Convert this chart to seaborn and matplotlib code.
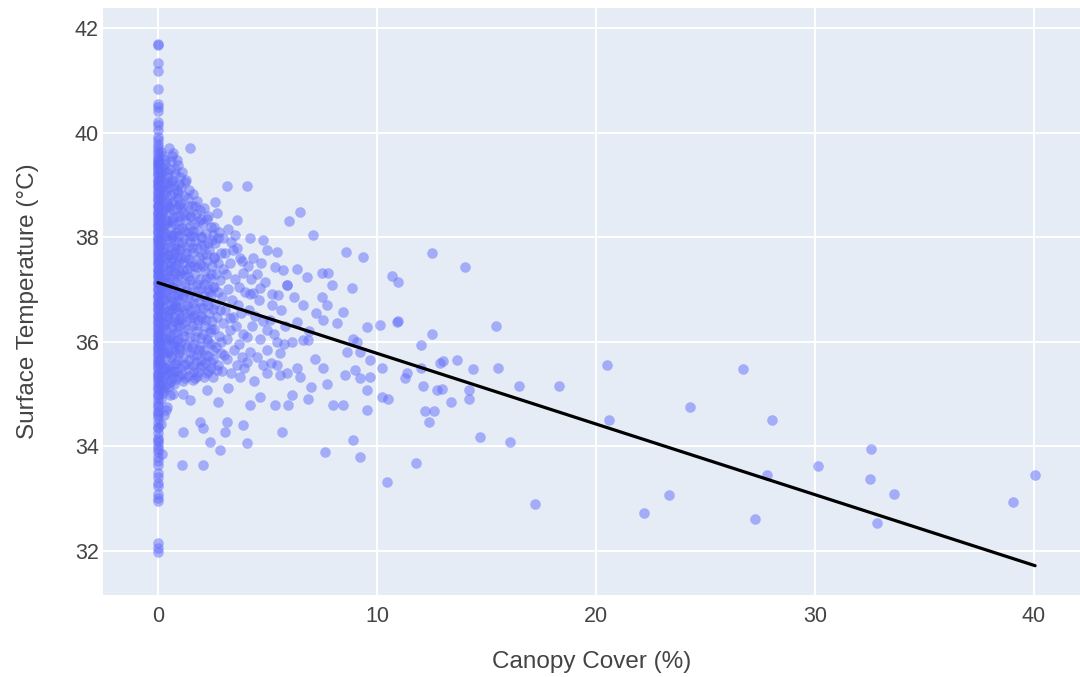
import matplotlib
matplotlib.use("Agg")
import matplotlib.pyplot as plt
import seaborn as sns
import pandas as pd

# ---------------- data ----------------
# points sitting at 0 % canopy cover
zero_y = [41.69, 41.67, 41.32, 41.17, 40.84, 40.55, 40.49, 40.41, 40.2, 40.14, 40.04, 39.92,
          39.85, 39.78, 39.73, 39.66, 39.6, 39.55, 39.48, 39.42, 39.37, 39.3, 39.25, 39.18,
          39.12, 39.05, 39.0, 38.93, 38.88, 38.81, 38.75, 38.7, 38.62, 38.57, 38.5, 38.44,
          38.38, 38.31, 38.26, 38.2, 38.13, 38.07, 38.01, 37.95, 37.9, 37.83, 37.77, 37.7,
          37.65, 37.58, 37.52, 37.46, 37.4, 37.33, 37.28, 37.21, 37.15, 37.1, 37.03, 36.97,
          36.9, 36.85, 36.78, 36.72, 36.66, 36.6, 36.53, 36.48, 36.41, 36.35, 36.3, 36.22,
          36.17, 36.1, 36.04, 35.98, 35.92, 35.86, 35.8, 35.73, 35.67, 35.6, 35.55, 35.48,
          35.41, 35.35, 35.3, 35.22, 35.15, 35.08, 35.0, 34.92, 34.85, 34.76, 34.68, 34.64,
          34.55, 34.45, 34.38, 34.26, 34.17, 34.08, 34.0, 33.9, 33.8, 33.72, 33.65, 33.5,
          33.42, 33.3, 33.25, 33.1, 33.01, 32.95, 32.15, 32.05, 31.99]
zero2_y = [39.5, 39.4, 39.33, 39.21, 39.08, 38.97, 38.85, 38.72, 38.6, 38.47, 38.35, 38.23,
           38.1, 37.98, 37.86, 37.74, 37.62, 37.5, 37.37, 37.25, 37.12, 37.0, 36.88, 36.75,
           36.63, 36.5, 36.38, 36.26, 36.13, 36.01, 35.89, 35.76, 35.64, 35.52, 35.39, 35.27,
           35.12, 34.98, 34.8, 34.6, 34.35, 34.12, 33.95]

# (canopy %, surface temperature) pairs by canopy band
band_near0 = [(0.12, 39.62), (0.3, 39.48), (0.18, 39.35), (0.4, 39.22), (0.08, 39.1), (0.25, 38.98),
              (0.35, 38.86), (0.15, 38.74), (0.42, 38.62), (0.22, 38.5), (0.1, 38.38), (0.33, 38.26),
              (0.2, 38.14), (0.38, 38.02), (0.14, 37.9), (0.28, 37.78), (0.45, 37.66), (0.06, 37.54),
              (0.24, 37.42), (0.36, 37.3), (0.16, 37.18), (0.41, 37.06), (0.11, 36.94), (0.3, 36.82),
              (0.19, 36.7), (0.44, 36.58), (0.09, 36.46), (0.27, 36.34), (0.37, 36.22), (0.13, 36.1),
              (0.32, 35.98), (0.21, 35.86), (0.43, 35.74), (0.07, 35.62), (0.26, 35.5), (0.39, 35.38),
              (0.17, 35.26), (0.34, 35.14), (0.23, 35.02), (0.12, 34.9), (0.4, 34.75), (0.29, 34.6),
              (0.15, 34.42), (0.36, 34.7), (0.2, 33.85)]
band_near0b = [(0.22, 39.55), (0.05, 39.42), (0.34, 39.28), (0.16, 39.16), (0.44, 39.04), (0.1, 38.92),
               (0.28, 38.8), (0.4, 38.68), (0.06, 38.56), (0.2, 38.44), (0.37, 38.32), (0.13, 38.2),
               (0.3, 38.08), (0.42, 37.96), (0.08, 37.84), (0.24, 37.72), (0.35, 37.6), (0.17, 37.48),
               (0.45, 37.36), (0.11, 37.24), (0.31, 37.12), (0.2, 37.0), (0.39, 36.88), (0.07, 36.76),
               (0.27, 36.64), (0.14, 36.52), (0.42, 36.4), (0.22, 36.28), (0.05, 36.16), (0.35, 36.04),
               (0.16, 35.92), (0.3, 35.8), (0.1, 35.68), (0.41, 35.56), (0.19, 35.44), (0.33, 35.32),
               (0.08, 35.2), (0.26, 35.08)]
band_near0c = [(0.32, 39.4), (0.14, 39.25), (0.26, 39.05), (0.38, 38.9), (0.18, 38.72), (0.3, 38.55),
               (0.09, 38.4), (0.43, 38.28), (0.24, 38.12), (0.12, 37.95), (0.34, 37.8), (0.2, 37.62),
               (0.4, 37.5), (0.06, 37.38), (0.28, 37.22), (0.15, 37.08), (0.36, 36.95), (0.24, 36.8),
               (0.1, 36.62), (0.42, 36.5), (0.3, 36.36), (0.17, 36.2), (0.38, 36.08), (0.08, 35.95),
               (0.27, 35.78), (0.14, 35.6), (0.35, 35.5), (0.22, 35.35), (0.44, 35.22), (0.12, 35.1)]
band_a = [(0.5, 39.7), (0.7, 39.6), (0.6, 39.45), (0.9, 39.38), (0.55, 39.3), (0.8, 39.2), (0.65, 39.1),
          (0.95, 39.02), (0.5, 38.95), (0.75, 38.85), (0.9, 38.75), (0.6, 38.66), (0.85, 38.55),
          (0.52, 38.47), (0.7, 38.38), (0.98, 38.3), (0.58, 38.2), (0.82, 38.1), (0.66, 38.0),
          (0.92, 37.9), (0.54, 37.82), (0.76, 37.72), (0.88, 37.62), (0.6, 37.53), (0.72, 37.43),
          (0.97, 37.35), (0.5, 37.25), (0.84, 37.15), (0.64, 37.05), (0.9, 36.95), (0.56, 36.85),
          (0.78, 36.75), (0.68, 36.65), (0.95, 36.55), (0.52, 36.45), (0.86, 36.35), (0.62, 36.25),
          (0.74, 36.15), (0.93, 36.05), (0.58, 35.95), (0.8, 35.85), (0.66, 35.75), (0.9, 35.65),
          (0.55, 35.55), (0.72, 35.45), (0.98, 35.35), (0.6, 35.25), (0.82, 35.28), (0.7, 35.0),
          (0.55, 34.98)]
band_a2 = [(0.62, 39.55), (0.85, 39.48), (0.48, 39.15), (0.72, 39.0), (0.88, 38.9), (0.58, 38.8),
           (0.95, 38.62), (0.68, 38.52), (0.47, 38.3), (0.8, 38.25), (0.6, 38.05), (0.9, 38.02),
           (0.74, 37.85), (0.5, 37.65), (0.96, 37.75), (0.66, 37.6), (0.82, 37.48), (0.55, 37.38),
           (0.9, 37.25), (0.7, 37.2), (0.48, 37.0), (0.78, 36.9), (0.96, 36.8), (0.6, 36.7),
           (0.86, 36.6), (0.5, 36.55), (0.72, 36.4), (0.94, 36.3), (0.57, 36.12), (0.83, 36.02),
           (0.68, 35.9), (0.48, 35.8), (0.94, 35.78), (0.76, 35.6), (0.62, 35.4), (0.88, 35.45),
           (0.52, 35.15), (0.75, 35.2)]
band_a3 = [(0.78, 39.3), (0.58, 39.05), (0.92, 38.85), (0.7, 38.7), (0.52, 38.58), (0.86, 38.4),
           (0.64, 38.3), (0.96, 38.15), (0.74, 38.05), (0.56, 37.92), (0.84, 37.8), (0.68, 37.68),
           (0.94, 37.55), (0.6, 37.45), (0.8, 37.32), (0.5, 37.15), (0.74, 37.02), (0.9, 36.9),
           (0.62, 36.78), (0.84, 36.68), (0.54, 36.6), (0.76, 36.48), (0.98, 36.42), (0.66, 36.3),
           (0.88, 36.18), (0.52, 36.05), (0.72, 35.96), (0.94, 35.88), (0.6, 35.7), (0.84, 35.58),
           (0.5, 35.45), (0.7, 35.32)]
band_b = [(1.46, 39.71), (1.1, 39.25), (1.3, 39.1), (1.05, 38.95), (1.4, 38.9), (1.2, 38.78),
          (1.02, 38.65), (1.35, 38.6), (1.15, 38.48), (1.45, 38.4), (1.25, 38.3), (1.08, 38.18),
          (1.38, 38.1), (1.18, 37.98), (1.48, 37.9), (1.03, 37.8), (1.28, 37.7), (1.42, 37.58),
          (1.12, 37.5), (1.33, 37.4), (1.22, 37.28), (1.47, 37.18), (1.06, 37.08), (1.3, 36.98),
          (1.16, 36.86), (1.4, 36.76), (1.02, 36.66), (1.26, 36.55), (1.44, 36.45), (1.1, 36.35),
          (1.36, 36.25), (1.2, 36.12), (1.05, 36.0), (1.32, 35.9), (1.46, 35.8), (1.14, 35.7),
          (1.28, 35.58), (1.4, 35.48), (1.08, 35.38), (1.24, 35.3), (1.16, 35.01), (1.46, 34.88),
          (1.16, 34.28), (1.08, 33.64), (1.6, 35.27)]
band_b2 = [(1.22, 39.05), (1.0, 39.15), (1.38, 38.75), (1.1, 38.58), (1.3, 38.42), (1.48, 38.22),
           (1.0, 38.4), (1.2, 38.12), (1.44, 38.02), (1.1, 37.9), (1.32, 37.82), (1.05, 37.6),
           (1.22, 37.62), (1.46, 37.45), (1.16, 37.38), (1.38, 37.25), (1.0, 37.3), (1.25, 37.1),
           (1.42, 36.92), (1.1, 36.9), (1.34, 36.7), (1.18, 36.6), (1.48, 36.58), (1.05, 36.45),
           (1.3, 36.4), (1.15, 36.2), (1.45, 36.1), (1.25, 35.95), (1.0, 35.85), (1.4, 35.65),
           (1.2, 35.55), (1.02, 35.5), (1.35, 35.35), (1.12, 35.25)]
band_c = [(1.92, 38.52), (1.6, 38.82), (1.8, 38.7), (1.55, 38.6), (1.75, 38.45), (1.95, 38.35),
          (1.65, 38.25), (1.85, 38.12), (1.58, 38.02), (1.7, 37.92), (1.98, 37.85), (1.62, 37.72),
          (1.88, 37.62), (1.52, 37.52), (1.78, 37.42), (1.68, 37.3), (1.94, 37.2), (1.56, 37.1),
          (1.82, 36.98), (1.72, 36.88), (1.6, 36.75), (1.9, 36.65), (1.66, 36.52), (1.84, 36.42),
          (1.54, 36.3), (1.76, 36.2), (1.96, 36.08), (1.64, 35.96), (1.86, 35.85), (1.58, 35.75),
          (1.74, 35.62), (1.92, 35.52), (1.62, 35.42), (1.8, 35.35), (1.92, 34.47), (2.07, 34.35)]
band_c2 = [(1.7, 38.6), (1.52, 38.4), (1.88, 38.3), (1.62, 38.12), (1.95, 38.0), (1.78, 37.8),
           (1.55, 37.8), (1.9, 37.48), (1.64, 37.45), (1.76, 37.1), (1.98, 37.02), (1.52, 36.95),
           (1.86, 36.78), (1.7, 36.62), (1.98, 36.5), (1.58, 36.48), (1.8, 36.32), (1.68, 36.1),
           (1.9, 35.92), (1.54, 35.9), (1.78, 35.75), (1.96, 35.65), (1.6, 35.55), (1.85, 35.42),
           (1.7, 35.3)]
band_d = [(2.6, 38.68), (2.1, 38.55), (2.3, 38.4), (2.05, 38.28), (2.4, 38.2), (2.2, 38.08),
          (2.45, 37.95), (2.12, 37.85), (2.35, 37.75), (2.02, 37.65), (2.25, 37.55), (2.48, 37.45),
          (2.15, 37.35), (2.38, 37.22), (2.08, 37.1), (2.28, 37.0), (2.44, 36.9), (2.18, 36.78),
          (2.04, 36.65), (2.32, 36.55), (2.46, 36.4), (2.14, 36.3), (2.36, 36.18), (2.22, 36.05),
          (2.42, 35.95), (2.06, 35.85), (2.3, 35.72), (2.16, 35.6), (2.4, 35.5), (2.24, 35.4),
          (2.1, 35.32), (2.22, 35.07), (2.38, 34.09), (2.07, 33.64), (2.76, 34.85)]
band_d2 = [(2.25, 38.35), (2.5, 38.05), (2.02, 38.0), (2.3, 37.88), (2.18, 37.68), (2.55, 37.62),
           (2.42, 37.3), (2.05, 37.45), (2.2, 37.2), (2.52, 37.05), (2.35, 36.95), (2.1, 36.88),
           (2.28, 36.7), (2.5, 36.62), (2.0, 36.45), (2.4, 36.25), (2.2, 36.42), (2.05, 36.15),
           (2.3, 36.0), (2.52, 35.85), (2.14, 35.75), (2.44, 35.62), (2.02, 35.55), (2.3, 35.45),
           (2.52, 35.32)]
band_e = [(2.68, 38.47), (2.55, 38.2), (2.8, 38.1), (2.95, 37.98), (2.62, 37.88), (2.76, 37.98),
          (2.88, 37.7), (2.58, 37.6), (2.72, 37.5), (2.98, 37.4), (2.64, 37.3), (2.84, 37.18),
          (2.54, 37.05), (2.74, 36.95), (2.92, 36.85), (2.6, 36.72), (2.82, 36.6), (2.7, 36.48),
          (2.96, 36.36), (2.56, 36.25), (2.78, 36.12), (2.9, 36.0), (2.66, 35.9), (2.86, 35.78),
          (2.52, 35.68), (2.72, 35.55), (2.94, 35.45), (2.68, 35.46), (2.83, 33.93), (3.14, 35.68)]
band_f = [(3.17, 38.98), (3.59, 38.33), (3.52, 38.04), (3.44, 37.75), (3.74, 37.6), (3.9, 37.31),
          (3.2, 38.15), (3.35, 37.9), (3.05, 37.7), (3.62, 37.8), (3.28, 37.5), (3.85, 37.55),
          (3.1, 37.3), (3.5, 37.2), (3.7, 37.05), (3.22, 37.0), (3.96, 36.95), (3.4, 36.8),
          (3.66, 36.7), (3.08, 36.6), (3.8, 36.55), (3.3, 36.45), (3.44, 36.47), (3.28, 36.22),
          (3.58, 36.3), (3.9, 36.15), (3.15, 36.05), (3.7, 35.95), (3.45, 35.85), (3.02, 35.75),
          (3.85, 35.7), (3.6, 35.55), (3.74, 35.33), (3.22, 35.11), (3.14, 34.47), (3.06, 34.28),
          (3.9, 34.41), (3.35, 35.4), (3.95, 35.5)]
band_g = [(4.08, 38.98), (4.2, 37.98), (4.81, 37.95), (4.96, 37.75), (4.35, 37.6), (4.66, 37.02),
          (4.2, 36.92), (4.35, 36.93), (4.5, 37.3), (4.1, 37.45), (4.7, 37.5), (4.9, 37.15),
          (4.25, 37.2), (4.6, 36.8), (4.96, 36.22), (4.15, 36.6), (4.45, 36.5), (4.8, 36.4),
          (4.3, 36.3), (4.05, 36.1), (4.65, 36.05), (4.96, 35.84), (4.2, 35.81), (4.05, 35.62),
          (4.5, 35.7), (4.8, 35.55), (4.96, 35.4), (4.66, 34.95), (4.2, 34.79), (4.05, 34.06),
          (4.4, 35.25)]
band_h = [(5.42, 37.72), (5.34, 37.43), (5.72, 37.37), (5.87, 37.08), (5.19, 36.92), (5.88, 37.09),
          (5.11, 36.41), (5.42, 36.0), (5.57, 35.78), (5.57, 35.37), (5.34, 34.79), (5.95, 34.79),
          (5.65, 34.28), (5.2, 36.7), (5.6, 36.6), (5.8, 36.3), (5.3, 36.15), (5.75, 35.95),
          (5.5, 36.9), (5.15, 35.6), (5.45, 35.55)]
band_i = [(6.48, 38.49), (6.0, 38.3), (7.06, 38.05), (6.33, 37.40), (6.79, 37.24), (7.47, 37.32),
          (7.78, 37.32), (7.93, 37.08), (6.64, 36.70), (7.47, 36.86), (7.7, 36.70), (7.55, 36.41),
          (6.33, 36.38), (6.1, 36.0), (6.85, 36.03), (6.64, 36.03), (7.15, 35.68), (7.55, 35.49),
          (6.33, 35.49), (5.87, 35.40), (6.48, 35.33), (7.7, 35.20), (7.0, 35.14), (6.85, 34.91),
          (6.1, 34.98), (7.62, 33.90), (6.2, 36.85), (7.2, 36.55), (6.9, 36.2)]
band_j = [(8.57, 37.72), (9.38, 37.62), (8.84, 37.02), (8.46, 36.57), (8.16, 36.35), (9.53, 36.29),
          (9.07, 36.0), (9.22, 35.81), (8.61, 35.81), (9.68, 35.65), (9.0, 35.46), (8.54, 35.36),
          (9.68, 35.33), (9.22, 35.30), (9.53, 35.07), (9.53, 34.69), (8.0, 34.79), (8.46, 34.79),
          (8.92, 34.12), (9.22, 33.80), (8.9, 36.05)]
band_k = [(10.14, 36.32), (10.9, 36.38), (10.21, 35.49), (10.21, 34.95), (10.52, 34.91), (10.44, 33.32),
          (10.67, 37.25), (10.98, 37.14), (10.98, 36.39), (12.5, 37.70), (14.0, 37.42),
          (15.42, 36.30), (12.49, 36.15), (12.0, 35.93), (11.39, 35.40), (11.3, 35.30), (12.0, 35.49),
          (12.88, 35.59), (13.03, 35.64), (13.64, 35.65), (14.4, 35.48), (15.52, 35.49), (12.09, 35.16),
          (12.72, 35.08), (12.99, 35.10), (14.21, 35.07), (14.21, 34.91), (13.39, 34.85), (16.5, 35.16),
          (18.3, 35.16), (12.2, 34.67), (12.6, 34.67), (12.37, 34.46), (14.7, 34.18), (16.09, 34.09),
          (11.8, 33.68), (17.2, 32.89), (20.51, 35.55), (20.59, 34.51), (26.73, 35.48), (24.31, 34.76),
          (28.02, 34.51), (32.54, 33.95), (30.14, 33.63), (27.79, 33.46), (32.52, 33.37), (33.62, 33.10),
          (40.05, 33.46), (39.02, 32.93), (23.33, 33.07), (22.2, 32.73), (27.24, 32.62), (32.84, 32.53)]

# OLS trend line end points
trend_x = [0.0, 40.05]
trend_y = [37.13, 31.72]

x_ticks = [0, 10, 20, 30, 40]
y_ticks = [32, 34, 36, 38, 40, 42]

# ---------------- build table ----------------
pairs = [(0.0, v) for v in zero_y] + [(0.0, v) for v in zero2_y]
for band in (band_near0, band_near0b, band_near0c, band_a, band_a2, band_a3, band_b, band_b2,
             band_c, band_c2, band_d, band_d2, band_e, band_f, band_g, band_h, band_i,
             band_j, band_k):
    pairs += band
df = pd.DataFrame(pairs, columns=["canopy", "temp"])
trend = pd.DataFrame({"canopy": trend_x, "temp": trend_y})

# ---------------- plot ----------------
sns.set_theme(style="white")
plt.rcParams["font.family"] = ["Liberation Sans", "DejaVu Sans"]

fig = plt.figure(figsize=(10.8, 6.77), dpi=100)
ax = fig.add_axes([103 / 1080, (677 - 595) / 677, 1 - 103 / 1080, (595 - 8) / 677])
ax.set_facecolor("#E5ECF6")

sns.scatterplot(data=df, x="canopy", y="temp", color="#636efa", alpha=0.5,
                s=58, linewidth=0, ax=ax, zorder=3)
sns.lineplot(data=trend, x="canopy", y="temp", color="black", linewidth=2.3,
             ax=ax, zorder=4)

ax.set_xlim(-2.51, 42.1)
ax.set_ylim(31.16, 42.38)
ax.set_xticks(x_ticks)
ax.set_yticks(y_ticks)
ax.grid(True, color="white", linewidth=1.4, zorder=0)
ax.set_axisbelow(True)
for s in ax.spines.values():
    s.set_visible(False)
ax.tick_params(length=0, labelsize=15.5, colors="#444444")
ax.tick_params(axis="x", pad=8)
ax.tick_params(axis="y", pad=3)

ax.set_xlabel("Canopy Cover (%)", fontsize=17.5, color="#444444", va="center")
ax.set_ylabel("Surface Temperature (°C)", fontsize=17.5, color="#444444", va="center")
ax.xaxis.set_label_coords(0.5, (595 - 662) / 587)
ax.yaxis.set_label_coords((28 - 103) / 977, 0.5)

fig.savefig("out.png", dpi=100, facecolor="white")
